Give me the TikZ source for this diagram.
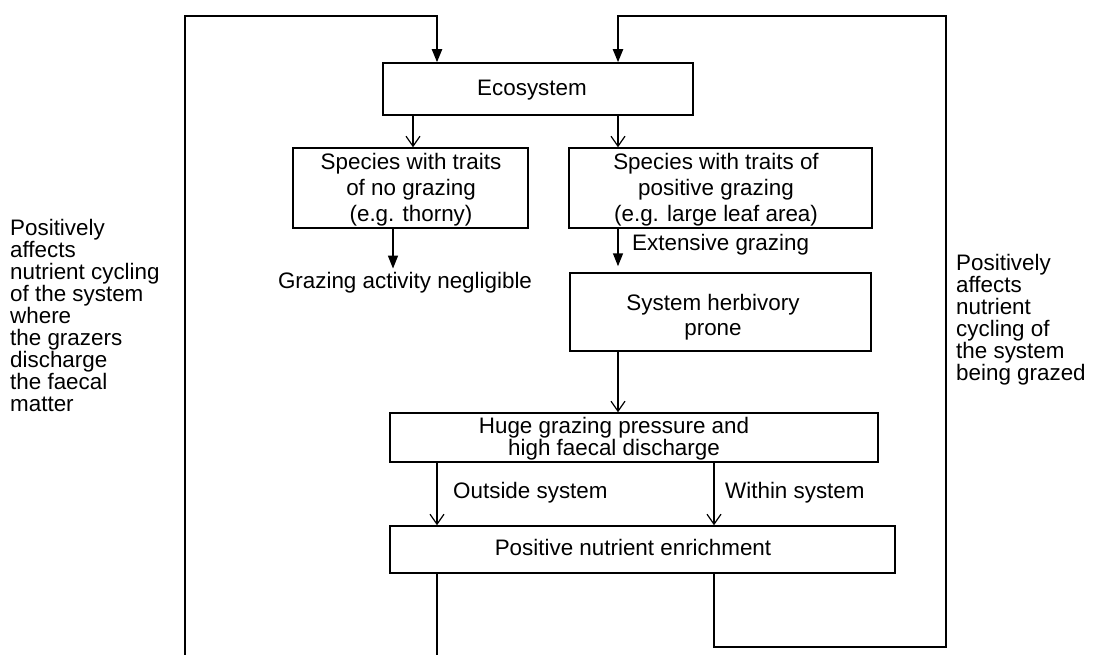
\documentclass[tikz,border=0pt]{standalone}
\usepackage{fontspec}
\setmainfont{Liberation Sans}
\usetikzlibrary{arrows.meta}
\begin{document}
\begin{tikzpicture}[x=1pt,y=-1pt,
  every node/.style={font=\fontsize{22.4}{26}\selectfont},
  box/.style={draw, line width=1.5pt, inner sep=0pt, align=center},
  conn/.style={line width=1.5pt},
  loopline/.style={line width=2pt},
  fillhead/.style={-{Triangle[length=13pt,width=10pt]}},
  openhead/.style={-{Straight Barb[length=10pt,width=14pt,line width=1.2pt]}},
  side/.style={align=left, inner sep=0pt, anchor=north west, font=\fontsize{22.4}{22}\selectfont},
  lbl/.style={inner sep=0pt, anchor=base west}]
\useasboundingbox[fill=white] (0,0) rectangle (1094,655);

% boxes
\node[box, minimum width=310pt, minimum height=52pt] (eco) at (538,89) {};
\node[anchor=base, inner sep=0pt] (ecotxt) at (532,96) {Ecosystem};
\node[box, minimum width=235pt, minimum height=80pt] (s1) at (410.5,188) {};
\node[inner sep=0pt, align=center] (s1txt) at (411,190) {Species with traits\\of no grazing\\(e.g. thorny)};
\node[box, minimum width=303pt, minimum height=80pt] (s2) at (720.5,188) {};
\node[inner sep=0pt, align=center] (s2txt) at (716,190) {Species with traits of\\positive grazing\\(e.g. large leaf area)};
\node[box, minimum width=301pt, minimum height=78pt] (s3) at (720.5,312) {};
\node[inner sep=0pt, align=center, font=\fontsize{22.4}{25}\selectfont] (s3txt) at (713,317) {System herbivory\\prone};
\node[box, minimum width=488pt, minimum height=49pt] (huge) at (634,437.5) {};
\node[inner sep=0pt, align=center, font=\fontsize{22.4}{22}\selectfont] (hugetxt) at (614,438.5) {Huge grazing pressure and\\high faecal discharge};
\node[box, minimum width=505pt, minimum height=47pt] (nut) at (642.5,549.5) {};
\node[anchor=base, inner sep=0pt] (nuttxt) at (633,555) {Positive nutrient enrichment};
\node[anchor=base, inner sep=3pt] (neg) at (405,288) {Grazing activity negligible};

% labels
\node[lbl] (ext) at (632,250) {Extensive grazing};
\node[lbl] (out) at (453,498) {Outside system};
\node[lbl] (within) at (725,498) {Within system};

\node[side] (lefttxt) at (10,219) {Positively\\affects\\nutrient cycling\\of the system\\where\\the grazers\\discharge\\the faecal\\matter};
\node[side] (righttxt) at (956,254) {Positively\\affects\\nutrient\\cycling of\\the system\\being grazed};

% coordinates
\coordinate (xa) at (413,0);
\coordinate (xb) at (618,0);
\coordinate (xc) at (393,0);
\coordinate (xd) at (437,0);
\coordinate (xe) at (714,0);
\coordinate (topL) at (185,16);
\coordinate (botL) at (185,655);
\coordinate (topR) at (946,16);
\coordinate (botR) at (946,647);

% feedback loops
\draw[loopline, fillhead] (botL) -- (topL) -| (eco.north -| xd);
\draw[loopline] (nut.south -| xd) -- (botL -| xd);
\draw[loopline, fillhead] (nut.south -| xe) -- (botR -| xe) -- (botR) -- (topR) -| (eco.north -| xb);

% connectors
\draw[conn, openhead] (eco.south -| xa) -- (s1.north -| xa);
\draw[conn, openhead] (eco.south -| xb) -- (s2.north -| xb);
\draw[conn, fillhead] (s1.south -| xc) -- (neg.north -| xc);
\draw[conn, fillhead, shorten >=6pt] (s2.south -| xb) -- (s3.north -| xb);
\draw[conn, openhead] (s3.south -| xb) -- (huge.north -| xb);
\draw[conn, openhead] (huge.south -| xd) -- (nut.north -| xd);
\draw[conn, openhead] (huge.south -| xe) -- (nut.north -| xe);
\end{tikzpicture}
\end{document}
